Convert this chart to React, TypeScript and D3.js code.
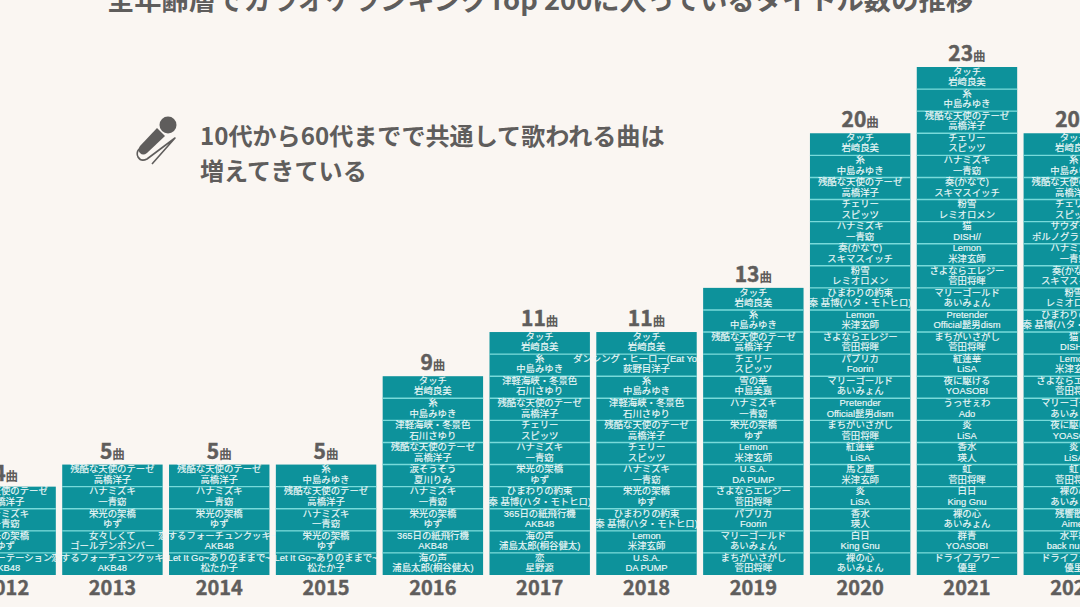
import React, { useRef, useEffect } from 'react';
import * as d3 from 'd3';

type Song = [string, string];

const touch: Song = ['タッチ', '岩崎良美'];
const ito: Song = ['糸', '中島みゆき'];
const zankoku: Song = ['残酷な天使のテーゼ', '高橋洋子'];
const hanamizuki: Song = ['ハナミズキ', '一青窈'];
const eiko: Song = ['栄光の架橋', 'ゆず'];
const fortune: Song = ['恋するフォーチュンクッキー', 'AKB48'];
const letItGo: Song = ['Let It Go~ありのままで~', '松たか子'];
const tsugaru: Song = ['津軽海峡・冬景色', '石川さゆり'];
const kamihikoki: Song = ['365日の紙飛行機', 'AKB48'];
const uminokoe: Song = ['海の声', '浦島太郎(桐谷健太)'];
const cherry: Song = ['チェリー', 'スピッツ'];
const himawari: Song = ['ひまわりの約束', '秦 基博(ハタ・モトヒロ)'];
const lemon: Song = ['Lemon', '米津玄師'];
const usa: Song = ['U.S.A.', 'DA PUMP'];
const sayonara: Song = ['さよならエレジー', '菅田将暉'];
const paprika: Song = ['パプリカ', 'Foorin'];
const marigold: Song = ['マリーゴールド', 'あいみょん'];
const machigai: Song = ['まちがいさがし', '菅田将暉'];
const kanade: Song = ['奏(かなで)', 'スキマスイッチ'];
const konayuki: Song = ['粉雪', 'レミオロメン'];
const pretender: Song = ['Pretender', 'Official髭男dism'];
const gurenge: Song = ['紅蓮華', 'LiSA'];
const homura: Song = ['炎', 'LiSA'];
const kousui: Song = ['香水', '瑛人'];
const hakujitsu: Song = ['白日', 'King Gnu'];
const hadaka: Song = ['裸の心', 'あいみょん'];
const neko: Song = ['猫', 'DISH//'];
const yoruni: Song = ['夜に駆ける', 'YOASOBI'];
const niji: Song = ['虹', '菅田将暉'];
const dryflower: Song = ['ドライフラワー', '優里'];

const years = ['2012', '2013', '2014', '2015', '2016', '2017', '2018', '2019', '2020', '2021', '2022'];

const songs2012: Song[] = [zankoku, hanamizuki, eiko, ['ヘビーローテーション', 'AKB48']];
const songs2013: Song[] = [zankoku, hanamizuki, eiko, ['女々しくて', 'ゴールデンボンバー'], fortune];
const songs2014: Song[] = [zankoku, hanamizuki, eiko, fortune, letItGo];
const songs2015: Song[] = [ito, zankoku, hanamizuki, eiko, letItGo];
const songs2016: Song[] = [touch, ito, tsugaru, zankoku, ['涙そうそう', '夏川りみ'], hanamizuki, eiko, kamihikoki, uminokoe];
const songs2017: Song[] = [touch, ito, tsugaru, zankoku, cherry, hanamizuki, eiko, himawari, kamihikoki, uminokoe, ['恋', '星野源']];
const songs2018: Song[] = [touch, ['ダンシング・ヒーロー(Eat You Up)', '荻野目洋子'], ito, tsugaru, zankoku, cherry, hanamizuki, eiko, himawari, lemon, usa];
const songs2019: Song[] = [touch, ito, zankoku, cherry, ['雪の華', '中島美嘉'], hanamizuki, eiko, lemon, usa, sayonara, paprika, marigold, machigai];
const songs2020: Song[] = [touch, ito, zankoku, cherry, hanamizuki, kanade, konayuki, himawari, lemon, sayonara, paprika, marigold, pretender, machigai, gurenge, ['馬と鹿', '米津玄師'], homura, kousui, hakujitsu, hadaka];
const songs2021: Song[] = [touch, ito, zankoku, cherry, hanamizuki, kanade, konayuki, neko, lemon, sayonara, marigold, pretender, machigai, gurenge, yoruni, ['うっせぇわ', 'Ado'], homura, kousui, niji, hakujitsu, hadaka, ['群青', 'YOASOBI'], dryflower];
const songs2022: Song[] = [touch, ito, zankoku, cherry, ['サウダージ', 'ポルノグラフィティ'], hanamizuki, kanade, konayuki, himawari, neko, lemon, sayonara, marigold, yoruni, homura, niji, hadaka, ['残響散歌', 'Aimer'], ['水平線', 'back number'], dryflower];

const songsByYear = [songs2012, songs2013, songs2014, songs2015, songs2016, songs2017, songs2018, songs2019, songs2020, songs2021, songs2022];

const titleText = '全年齢層でカラオケランキングTop 200に入っているタイトル数の推移';
const noteLines = ['10代から60代までで共通して歌われる曲は', '増えてきている'];
const unitLabel = '曲';

const jpFont = '"Noto Sans CJK JP", "Noto Sans", sans-serif';
const songFont = '"Liberation Sans", "Noto Sans CJK JP", sans-serif';
const grey = '#5f5d5c';

const App: React.FC = () => {
    const svgRef = useRef<SVGSVGElement>(null);

    useEffect(() => {
        if (!svgRef.current) return;

        const width = 1080;
        const height = 607;

        d3.select(svgRef.current).selectAll('*').remove();

        const svg = d3.select(svgRef.current)
            .attr('width', width)
            .attr('height', height)
            .style('position', 'absolute')
            .style('left', 0)
            .style('top', 0)
            .style('font-family', jpFont);

        svg.append('rect')
            .attr('width', width)
            .attr('height', height)
            .attr('fill', '#faf6f2');

        // 2012 and 2022 run off the edges of the picture
        const x = d3.scaleBand<string>()
            .domain(years)
            .range([-44.6, 1124])
            .paddingInner(0.06);

        const y = d3.scaleLinear()
            .domain([0, d3.max(songsByYear, d => d.length)!])
            .range([575, 67]);

        const columns = svg.selectAll('.year')
            .data(years)
            .enter()
            .append('g')
            .attr('class', 'year')
            .attr('transform', d => `translate(${x(d)},0)`);

        // cells first, so that long names can run over the neighbouring column
        columns.each(function (year, yi) {
            const list = songsByYear[yi];
            const g = d3.select(this);

            g.selectAll('rect')
                .data(list)
                .enter()
                .append('rect')
                .attr('y', (_, i) => y(list.length - i))
                .attr('width', x.bandwidth())
                .attr('height', (_, i) => y(list.length - i - 1) - y(list.length - i))
                .attr('fill', '#0d929b');

            g.selectAll('line')
                .data(list.slice(1))
                .enter()
                .append('line')
                .attr('x1', 0)
                .attr('x2', x.bandwidth())
                .attr('y1', (_, i) => y(list.length - i - 1))
                .attr('y2', (_, i) => y(list.length - i - 1))
                .attr('stroke', '#78dada')
                .attr('stroke-width', 1.4);

            g.append('text')
                .attr('x', x.bandwidth() / 2)
                .attr('y', 595)
                .attr('text-anchor', 'middle')
                .attr('fill', grey)
                .attr('stroke', grey)
                .attr('stroke-width', 0.4)
                .style('font-size', '20px')
                .style('font-weight', 700)
                .text(year);

            const countLabel = g.append('text')
                .attr('x', x.bandwidth() / 2)
                .attr('y', y(list.length) - 6)
                .attr('text-anchor', 'middle')
                .attr('fill', grey)
                .style('font-weight', 700);
            countLabel.append('tspan')
                .attr('stroke', grey)
                .attr('stroke-width', 0.5)
                .style('font-size', '21px')
                .text(list.length);
            countLabel.append('tspan')
                .style('font-size', '12.5px')
                .text(unitLabel);
        });

        columns.each(function (_, yi) {
            const list = songsByYear[yi];
            const labels = d3.select(this).selectAll('.song')
                .data(list)
                .enter()
                .append('text')
                .attr('class', 'song')
                .attr('text-anchor', 'middle')
                .attr('fill', '#eef8f8')
                .attr('stroke', '#eef8f8')
                .attr('stroke-width', 0.15)
                .style('font-family', songFont)
                .style('font-size', '9.4px');

            labels.append('tspan')
                .attr('x', x.bandwidth() / 2)
                .attr('y', (_, i) => y(list.length - i) + 7.8)
                .text(d => d[0]);
            labels.append('tspan')
                .attr('x', x.bandwidth() / 2)
                .attr('y', (_, i) => y(list.length - i) + 18.2)
                .text(d => d[1]);
        });

        svg.append('text')
            .attr('x', 540)
            .attr('y', 10)
            .attr('text-anchor', 'middle')
            .attr('fill', grey)
            .style('font-size', '27.3px')
            .style('font-weight', 700)
            .text(titleText);

        svg.selectAll('.note')
            .data(noteLines)
            .enter()
            .append('text')
            .attr('class', 'note')
            .attr('x', 200)
            .attr('y', (_, i) => 145 + i * 35)
            .attr('fill', grey)
            .style('font-size', '24.1px')
            .style('font-weight', 700)
            .text(d => d);

        // microphone icon
        const mic = svg.append('g');
        mic.append('circle')
            .attr('cx', 168)
            .attr('cy', 125)
            .attr('r', 8.5)
            .attr('fill', grey);
        mic.append('path')
            .attr('d', 'M157,128 L165,136 L147,153 Q143,156 140,153 Q137,150 140,146 Z')
            .attr('fill', grey);
        mic.append('path')
            .attr('d', 'M152,164 L175,138 L147,159 Q141,162 138,157 Q136,153 139,149')
            .attr('fill', 'none')
            .attr('stroke', grey)
            .attr('stroke-linejoin', 'round')
            .attr('stroke-width', 1.6);
    }, []);

    return <svg ref={svgRef}></svg>;
};

export default App;
